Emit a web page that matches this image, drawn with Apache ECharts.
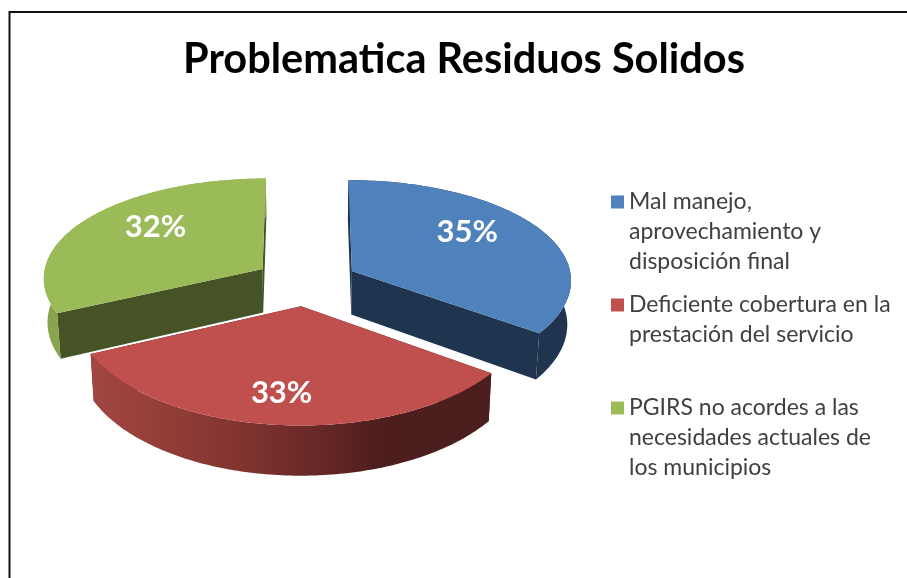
<!DOCTYPE html>
<html><head><meta charset="utf-8">
<style>html,body{margin:0;padding:0;background:#fff}#c{width:907px;height:578px}</style>
<script src="https://cdn.jsdelivr.net/npm/echarts@6/dist/echarts.min.js"></script>
</head><body><div id="c"></div>
<script>
const titleText = 'Problematica Residuos Solidos';
const categories = [
  'Mal manejo,\naprovechamiento y\ndisposición final',
  'Deficiente cobertura en la\nprestación del servicio',
  'PGIRS no acordes a las\nnecesidades actuales de\nlos municipios'
];
const values = [35, 33, 32];
const topColors = ['#4f81bd', '#c0504d', '#9bbb59'];
const radialColors = ['#1f344f', '#4b1e1d', '#465326'];
const wallStops = [
  [[0, '#1f344f'], [1, '#1f344f']],
  [[0, '#a34643'], [0.35, '#84352f'], [0.55, '#6a2927'], [0.72, '#4d1e1d'], [1, '#4b1e1d']],
  [[0, '#88a54e'], [1, '#88a54e']]
];
const labelShift = [[-20, -7], [-3, 4], [20, -5]];
const legendTops = [127, 260, 333];

// layout of the projected pie
const CX = 306, CY = 281.8, R = 220, RY = 102, PX = 0.08, PY = 0.1, EXPLODE = 0.236, DEPTH = 44, SHRINK = 0.986, LABEL_F = 0.72;
const total = values.reduce((a, b) => a + b, 0);
const toRad = d => d * Math.PI / 180;

function project(u, v, low) {
  const sx = 1 / (1 - PX * v), sy = 1 / (1 - PY * v);
  let x = CX + u * R * sx, y = CY + v * RY * sy;
  if (low) { x = CX + (x - CX) * SHRINK; y += DEPTH * sy; }
  return [x, y];
}

function renderSlice(index) {
  return function (params, api) {
    const value = api.value(0);
    let before = 0;
    for (let i = 0; i < index; i++) before += values[i];
    const a0 = before / total * 360, a1 = a0 + value / total * 360, mid = toRad((a0 + a1) / 2);
    const ou = Math.sin(mid) * EXPLODE, ov = -Math.cos(mid) * EXPLODE;
    const rim = low => {
      const pts = [];
      for (let a = a0; a <= a1 + 1e-6; a += (a1 - a0) / 120) {
        pts.push(project(ou + Math.sin(toRad(a)), ov - Math.cos(toRad(a)), low));
      }
      return pts;
    };
    const apex = low => project(ou, ov, low);
    const topRim = rim(false), lowRim = rim(true);
    const poly = (points, fill) => ({ type: 'polygon', shape: { points }, style: { fill }, silent: true });
    const n = topRim.length - 1;
    const gradient = { type: 'linear', x: 0, y: 0, x2: 1, y2: 0, colorStops: wallStops[index].map(s => ({ offset: s[0], color: s[1] })) };
    const lp = project(ou + Math.sin(mid) * LABEL_F, ov - Math.cos(mid) * LABEL_F, false);
    return {
      type: 'group',
      children: [
        poly([apex(false), topRim[0], lowRim[0], apex(true)], radialColors[index]),
        poly([apex(false), topRim[n], lowRim[n], apex(true)], radialColors[index]),
        poly(topRim.concat(lowRim.slice().reverse()), gradient),
        poly([apex(false)].concat(topRim), topColors[index]),
        {
          type: 'text', silent: true,
          style: {
            x: lp[0] + labelShift[index][0], y: lp[1] + labelShift[index][1],
            text: value + '%', fill: '#fff', align: 'center', verticalAlign: 'middle',
            font: 'bold 31px Lato'
          }
        }
      ]
    };
  };
}

const chart = echarts.init(document.getElementById('c'), null, { renderer: 'canvas' });
chart.setOption({
  animation: false,
  backgroundColor: '#fff',
  title: {
    text: titleText, left: 464, top: 39, textAlign: 'center', padding: 0,
    textStyle: { fontFamily: 'Lato', fontWeight: 'bold', fontSize: 41.5, color: '#000' }
  },
  legend: categories.map((name, i) => ({
    data: [name], left: 611, top: legendTops[i], padding: 0, icon: 'rect',
    itemWidth: 13, itemHeight: 13, selectedMode: false,
    formatter: n => '\n'.repeat(n.split('\n').length - 1) + n,
    textStyle: { fontFamily: 'Lato', fontSize: 23, color: '#404040', lineHeight: 30 }
  })),
  graphic: [{
    type: 'polyline', silent: true,
    shape: { points: [[9.5, 578], [9.5, 12], [907, 12]] },
    style: { stroke: '#111', lineWidth: 2, fill: null }
  }],
  series: categories.map((name, i) => ({
    type: 'custom', name, coordinateSystem: 'none', silent: true,
    itemStyle: { color: topColors[i] },
    data: [[values[i]]],
    renderItem: renderSlice(i)
  }))
});
</script></body></html>
